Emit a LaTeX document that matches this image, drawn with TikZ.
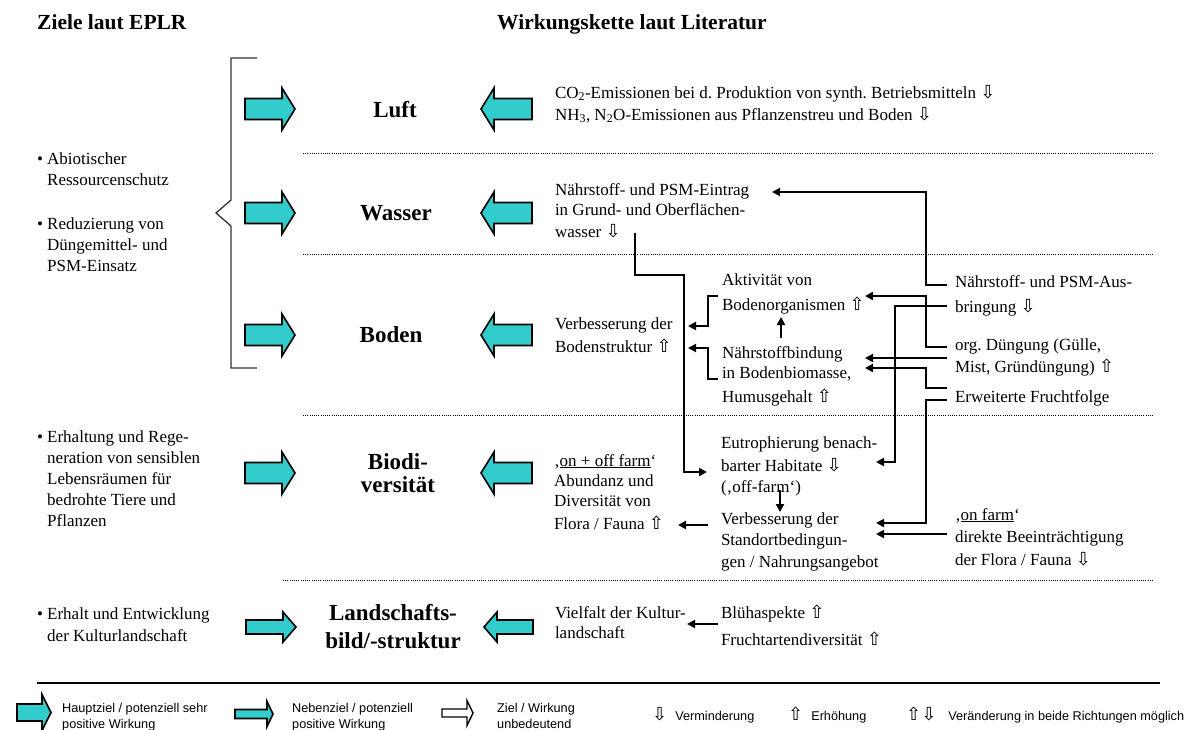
\documentclass[tikz,border=0pt]{standalone}
\usepackage{fontspec}
\setmainfont{Liberation Serif}
\newfontfamily\legendfont{Liberation Sans}
\newfontfamily\symfont{DejaVu Sans}
\usetikzlibrary{arrows.meta}
\frenchspacing
\definecolor{goalteal}{RGB}{51,204,204}
\newcommand\arrdn{{\symfont\fontsize{18}{18}\selectfont\char"21E9}}
\newcommand\arrup{{\symfont\fontsize{18}{18}\selectfont\char"21E7}}
% block arrow pointing right: left x, tip x, centre y, head length, half body, half head, style
\newcommand\goalR[7]{\draw[#7] (#1,{#3-#5}) -- ({#2-#4},{#3-#5}) -- ({#2-#4},{#3-#6}) -- (#2,#3) -- ({#2-#4},{#3+#6}) -- ({#2-#4},{#3+#5}) -- (#1,{#3+#5}) -- cycle;}
% block arrow pointing left: tip x, right x, centre y, head length, half body, half head, style
\newcommand\goalL[7]{\draw[#7] (#2,{#3-#5}) -- ({#1+#4},{#3-#5}) -- ({#1+#4},{#3-#6}) -- (#1,#3) -- ({#1+#4},{#3+#6}) -- ({#1+#4},{#3+#5}) -- (#2,{#3+#5}) -- cycle;}
\tikzset{
  body/.style={font=\fontsize{17}{20}\selectfont, inner sep=0pt, outer sep=0pt, anchor=base west, align=left},
  heading/.style={font=\fontsize{23}{23}\selectfont\bfseries, inner sep=0pt, anchor=base, align=center},
  coltitle/.style={font=\fontsize{21.5}{24}\selectfont\bfseries, inner sep=0pt, anchor=base west},
  legtext/.style={font=\legendfont\fontsize{12.7}{16}\selectfont, inner sep=0pt, anchor=base west, align=left},
  conn/.style={line width=2pt, -{Triangle[length=8pt,width=8pt]}},
  sepline/.style={line width=0.9pt, dash pattern=on 0.9pt off 1.3pt},
  goal/.style={draw=black, line width=1.6pt, fill=goalteal, line join=miter},
  weak/.style={draw=black, line width=1.4pt, fill=white, line join=miter},
}
\begin{document}
\begin{tikzpicture}[x=1pt,y=-1pt]
\useasboundingbox (0,0) rectangle (1197,729);
\fill[white] (0,0) rectangle (1197,729);

% column titles
\node[coltitle] (tziele) at (37,29) {Ziele laut EPLR};
\node[coltitle] (twirk) at (497,29) {Wirkungskette laut Literatur};

% bracket around the resource-protection goals
\draw[line width=1.3pt, black!80] (257,58) -- (231,58) -- (231,200) -- (216,213) -- (231,226) -- (231,368) -- (257,368);

% goals (multi-line nodes sit on the baseline of their last line)
\node[body] (gabiot) at (37,185) {\textbullet\ Abiotischer\\[1pt]\hphantom{\textbullet\ }Ressourcenschutz};
\node[body] (gredu) at (37,271) {\textbullet\ Reduzierung von\\[1pt]\hphantom{\textbullet\ }Düngemittel- und\\[1pt]\hphantom{\textbullet\ }PSM-Einsatz};
\node[body] (gbio) at (37,526) {\textbullet\ Erhaltung und Rege-\\[1pt]\hphantom{\textbullet\ }neration von sensiblen\\[1pt]\hphantom{\textbullet\ }Lebensräumen für\\[1pt]\hphantom{\textbullet\ }bedrohte Tiere und\\[1pt]\hphantom{\textbullet\ }Pflanzen};
\node[body] (gland) at (37,641) {\textbullet\ Erhalt und Entwicklung\\[2pt]\hphantom{\textbullet\ }der Kulturlandschaft};

% protected goods
\node[heading] (luft) at (395,117) {Luft};
\node[heading] (wasser) at (396,220) {Wasser};
\node[heading] (boden) at (391,342) {Boden};
\node[heading] (bio) at (398,492) {Biodi-\\versität};
\node[heading] (land) at (393,648) {Landschafts-\\[5pt]bild/-struktur};

% goal arrows (left) and effect arrows (right)
\goalR{245}{295}{109}{13}{10.5}{21}{goal}
\goalR{245}{295}{213}{13}{10.5}{21}{goal}
\goalR{245}{295}{335}{13}{10.5}{21}{goal}
\goalR{245}{295}{473}{13}{10.5}{21}{goal}
\goalR{246}{296}{627}{13}{7}{15}{goal}
\goalL{481}{532}{109}{13}{10.5}{21}{goal}
\goalL{481}{532}{213}{13}{10.5}{21}{goal}
\goalL{481}{532}{335}{13}{10.5}{21}{goal}
\goalL{481}{532}{473}{13}{10.5}{21}{goal}
\goalL{484}{533}{627}{13}{7}{15}{goal}

% dotted separators
\draw[sepline] (303,153) -- (1153,153);
\draw[sepline] (303,254) -- (1153,254);
\draw[sepline] (303,415) -- (1153,415);
\draw[sepline] (283,580) -- (1153,580);

% effect chain texts
\node[body] (emis) at (555,120) {CO\textsubscript{2}-Emissionen bei d. Produktion von synth. Betriebsmitteln \arrdn\\[2pt]NH\textsubscript{3}, N\textsubscript{2}O-Emissionen aus Pflanzenstreu und Boden \arrdn};
\node[body] (eintrag) at (555,237) {Nährstoff- und PSM-Eintrag\\in Grund- und Oberflächen-\\[2pt]wasser \arrdn};
\node[body] (bstr) at (555,352) {Verbesserung der\\[3pt]Bodenstruktur \arrup};
\node[body] (aktiv) at (722,310) {Aktivität von\\[5pt]Bodenorganismen \arrup};
\node[body] (nbind) at (722,402) {Nährstoffbindung\\in Bodenbiomasse,\\[4pt]Humusgehalt \arrup};
\node[body] (ausbr) at (955,312) {Nährstoff- und PSM-Aus-\\[5pt]bringung \arrdn};
\node[body] (org) at (955,372) {org. Düngung (Gülle,\\[2pt]Mist, Gründüngung) \arrup};
\node[body] (frucht) at (955,402) {Erweiterte Fruchtfolge};
\node[body] (eutro) at (721,492) {Eutrophierung benach-\\[3pt]barter Habitate \arrdn\\[1pt](‚off-farm‘)};
\node[body] (stort) at (721,567) {Verbesserung der\\[1pt]Standortbedingun-\\[2pt]gen / Nahrungsangebot};
\node[body] (abund) at (554,529) {‚\underline{on + off farm}‘\\Abundanz und\\Diversität von\\[3pt]Flora / Fauna \arrup};
\node[body] (onfarm) at (955,565) {‚\underline{on farm}‘\\[2pt]direkte Beeinträchtigung\\[3pt]der Flora / Fauna \arrdn};
\node[body] (vielf) at (555,638) {Vielfalt der Kultur-\\landschaft};
\node[body] (bluh) at (721,645) {Blühaspekte \arrup\\[7pt]Fruchtartendiversität \arrup};

% connector ends
\coordinate (ausbrA) at (947,285);
\coordinate (ausbrB) at (947,306);
\coordinate (orgA) at (947,347);
\coordinate (orgB) at (947,358);
\coordinate (fruchtA) at (947,388);
\coordinate (fruchtB) at (947,400);
\coordinate (onfarmA) at (947,534);
\coordinate (eintragIn) at (772,192);
\coordinate (eintragOut) at (635,233);
\coordinate (aktivIn) at (865,296);
\coordinate (aktivOut) at (718,296);
\coordinate (aktivBot) at (781,317);
\coordinate (nbindInA) at (865,358);
\coordinate (nbindInB) at (865,368);
\coordinate (nbindOut) at (718,379);
\coordinate (nbindTop) at (781,338);
\coordinate (bstrInA) at (688,326);
\coordinate (bstrInB) at (688,348);
\coordinate (eutroInL) at (707,472);
\coordinate (eutroInR) at (876,462);
\coordinate (eutroBot) at (780,490);
\coordinate (stortTop) at (780,512);
\coordinate (stortInA) at (876,523);
\coordinate (stortInB) at (876,534);
\coordinate (stortOut) at (708,525);
\coordinate (abundIn) at (678,525);
\coordinate (bluhOut) at (718,624);
\coordinate (vielfIn) at (687,624);

% connectors
\draw[conn] (ausbrA) -- (926,285) -- (926,192) -- (eintragIn);
\draw[conn] (orgA) -- (926,347) -- (926,296) -- (aktivIn);
\draw[conn] (ausbrB) -- (895,306) -- (895,462) -- (eutroInR);
\draw[conn] (orgB) -- (nbindInA);
\draw[conn] (fruchtA) -- (926,388) -- (926,368) -- (nbindInB);
\draw[conn] (fruchtB) -- (926,400) -- (926,523) -- (stortInA);
\draw[conn] (onfarmA) -- (stortInB);
\draw[conn] (eintragOut) -- (635,275) -- (684,275) -- (684,472) -- (eutroInL);
\draw[conn] (aktivOut) -- (708,296) -- (708,326) -- (bstrInA);
\draw[conn] (nbindOut) -- (708,379) -- (708,348) -- (bstrInB);
\draw[conn] (nbindTop) -- (aktivBot);
\draw[conn] (eutroBot) -- (stortTop);
\draw[conn] (stortOut) -- (abundIn);
\draw[conn] (bluhOut) -- (vielfIn);

% legend
\draw[line width=1.3pt] (37,683) -- (1160,683);
\goalR{17}{51}{712.5}{9}{8.5}{18}{goal}
\node[legtext] (lhaupt) at (62,728) {Hauptziel / potenziell sehr\\positive Wirkung};
\goalR{235}{273}{714}{6}{4.5}{12.5}{goal}
\node[legtext] (lneben) at (292,728) {Nebenziel / potenziell\\positive Wirkung};
\goalR{442}{473}{713}{6}{4}{12.5}{weak}
\node[legtext] (lziel) at (497,728) {Ziel / Wirkung\\unbedeutend};
\node[legtext] (lminus) at (652,720) {\arrdn\hspace{8pt}Verminderung};
\node[legtext] (lplus) at (788,720) {\arrup\hspace{8pt}Erhöhung};
\node[legtext] (lboth) at (906,720) {\arrup\arrdn\hspace{12pt}Veränderung in beide Richtungen möglich};
\end{tikzpicture}
\end{document}
